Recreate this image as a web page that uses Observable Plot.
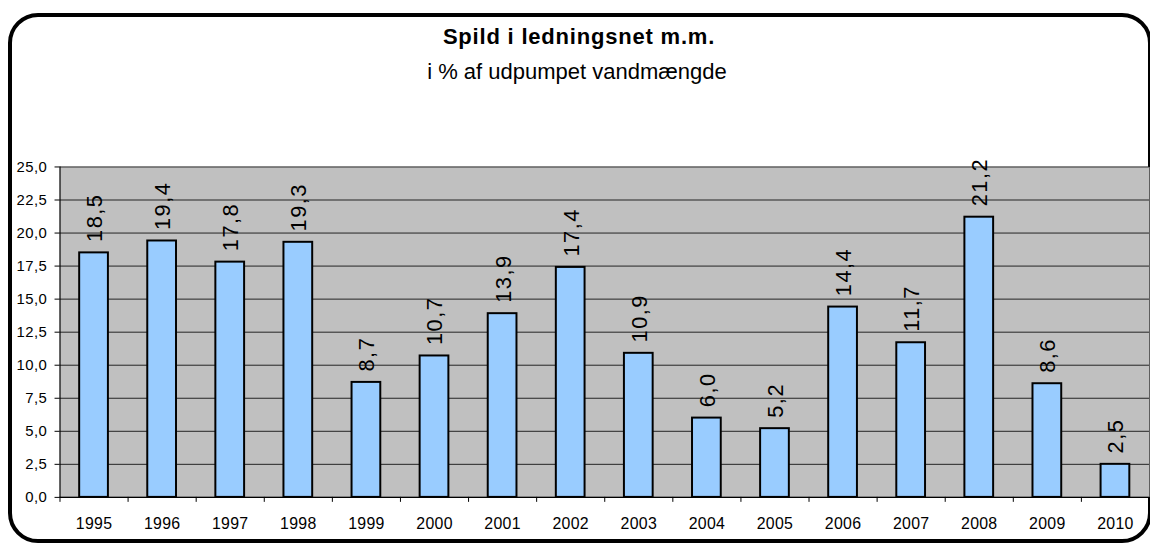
<!DOCTYPE html>
<html>
<head>
<meta charset="utf-8">
<script src="https://cdn.jsdelivr.net/npm/d3@7"></script>
<script src="https://cdn.jsdelivr.net/npm/@observablehq/plot@0.6"></script>
<style>
  html, body { margin: 0; padding: 0; background: #fff; overflow: hidden; }
  #wrap { position: relative; width: 1150px; height: 543px; overflow: hidden; font-family: "Liberation Sans", Arial, sans-serif; }
  #frame { position: absolute; left: 8px; top: 13px; width: 1136px; height: 522px; border: 4px solid #000; border-radius: 30px; }
  #title { position: absolute; left: 0; width: 1158px; top: 26px; text-align: center; font-size: 22px; line-height: 22px; font-weight: bold; letter-spacing: 0.8px; color: #000; }
  #subtitle { position: absolute; left: 0; width: 1154px; top: 61px; text-align: center; font-size: 22px; line-height: 22px; color: #000; }
  #chart { position: absolute; left: 0; top: 140px; }
  #chart svg text[transform*="rotate(-90"] { letter-spacing: 1.5px; }
  #chart svg g[aria-label="y-axis tick label"] text { font-size: 15px; letter-spacing: 0.4px; }
  #chart svg g[aria-label="x-axis tick label"] text { font-size: 16px; letter-spacing: 0.3px; }
</style>
</head>
<body>
<div id="wrap">
  <div id="frame"></div>
  <div id="title">Spild i ledningsnet m.m.</div>
  <div id="subtitle">i % af udpumpet vandmængde</div>
  <div id="chart"></div>
</div>
<script>
const years = ["1995","1996","1997","1998","1999","2000","2001","2002","2003","2004","2005","2006","2007","2008","2009","2010"];
const values = [18.5,19.4,17.8,19.3,8.7,10.7,13.9,17.4,10.9,6.0,5.2,14.4,11.7,21.2,8.6,2.5];
const yTicks = [0,2.5,5,7.5,10,12.5,15,17.5,20,22.5,25];

const data = years.map((year, i) => ({year, value: values[i]}));
const fmt = v => d3.format(".1f")(v).replace(".", ",");

const W = 1160, H = 403;
const mL = 60, mR = 1, mT = 26.7, mB = 43;
const step = (W - mL - mR) / years.length;

const chart = Plot.plot({
  width: W,
  height: H,
  marginLeft: mL,
  marginRight: mR,
  marginTop: mT,
  marginBottom: mB,
  style: {background: "transparent", fontFamily: "Liberation Sans, Arial, sans-serif", fontSize: "15px", color: "#000", overflow: "visible"},
  x: {type: "band", domain: years, paddingInner: 0.578, paddingOuter: 0.289, round: false, label: null},
  y: {domain: [0, 25], range: [H - mB, mT], label: null},
  marks: [
    Plot.frame({fill: "#c0c0c0"}),
    Plot.gridY(yTicks, {stroke: "#222", strokeOpacity: 1, strokeWidth: 1}),
    Plot.barY(data, {x: "year", y: "value", fill: "#99ccff", stroke: "#000", strokeWidth: 2}),
    Plot.ruleY([0], {stroke: "#000", strokeWidth: 1.2}),
    Plot.ruleX([years[0]], {x: d => d, y1: 0, y2: 25, dx: -step / 2, stroke: "#000", strokeWidth: 1.2}),
    Plot.axisY(yTicks, {tickSize: 5, tickPadding: 8, tickFormat: fmt, fontSize: 15, stroke: "#000", label: null}),
    Plot.axisX({tickSize: 0, tickPadding: 21, fontSize: 16, label: null}),
    Plot.axisX(years, {tickSize: 5, tickFormat: () => "", dx: step / 2, stroke: "#000", label: null}),
    Plot.axisX([years[0]], {tickSize: 5, tickFormat: () => "", dx: -step / 2, stroke: "#000", label: null}),
    Plot.text(data, {x: "year", y: "value", text: d => fmt(d.value), rotate: -90, textAnchor: "start", dy: -11, dx: 1, fontSize: 22, fill: "#000"})
  ]
});
document.getElementById("chart").appendChild(chart);
</script>
</body>
</html>
